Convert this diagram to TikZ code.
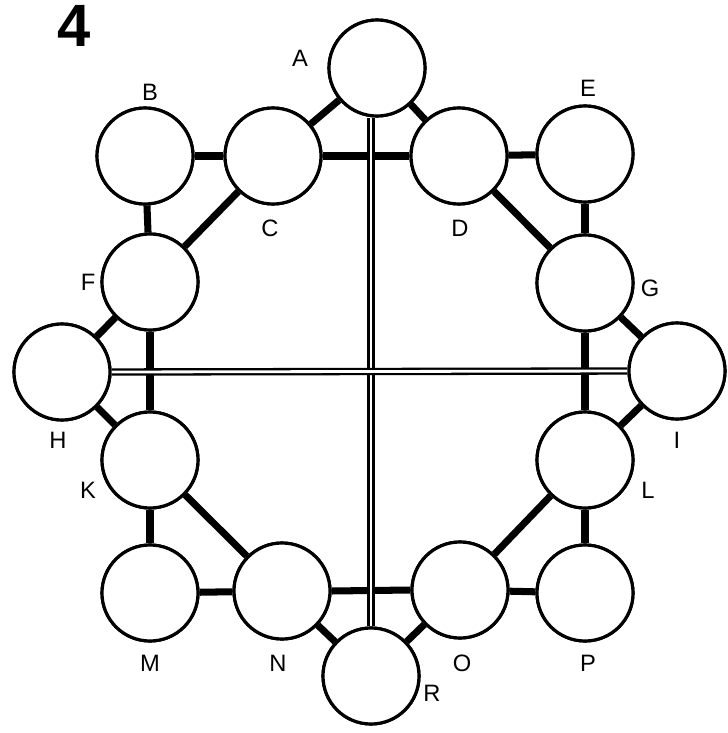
\documentclass[tikz,border=0pt]{standalone}
\usepackage{fontspec}
\setmainfont{Liberation Sans}
\usetikzlibrary{calc}

\begin{document}
\begin{tikzpicture}[x=0.02cm, y=-0.02cm]
    % Define colours
    \definecolor{borderColour}{HTML}{000000}
    \definecolor{fillColour}{HTML}{FFFFFF}

    % Define circle size and styles
    \def\circleSize{1.92cm}
    \tikzset{
        ring/.style={circle, draw=borderColour, fill=fillColour, line width=1.8pt,
            minimum size=\circleSize, inner sep=0pt},
        bar/.style={borderColour, line width=4pt},
        rail/.style={borderColour, double=fillColour, line width=1.3pt, double distance=1.6pt},
        tag/.style={font=\fontsize{13.5}{15}\selectfont, text=borderColour}
    }

    % Fix the page size
    \useasboundingbox (0,0) rectangle (727,733);

    % Figure number
    \node[font=\fontsize{34}{36}\selectfont\bfseries] (num) at (74,26) {4};

    % Place the circles
    \node[ring] (A) at (377,68) {};
    \node[ring] (B) at (145,156) {};
    \node[ring] (C) at (273,156) {};
    \node[ring] (D) at (459,156) {};
    \node[ring] (E) at (585,154) {};
    \node[ring] (F) at (150,282) {};
    \node[ring] (G) at (585,283) {};
    \node[ring] (H) at (62,372) {};
    \node[ring] (I) at (677,371) {};
    \node[ring] (K) at (150,460) {};
    \node[ring] (L) at (585,460) {};
    \node[ring] (M) at (150,593) {};
    \node[ring] (N) at (282,591) {};
    \node[ring] (O) at (460,590) {};
    \node[ring] (P) at (585,593) {};
    \node[ring] (R) at (371,676) {};

    % Draw the bars between the circles
    \foreach \a/\b in {A/C, A/D, B/C, C/F, B/F, D/E, D/G, E/G,
                       F/H, H/K, G/I, I/L, K/M, K/N, M/N, L/O, L/P, O/P, N/R, O/R}
        \draw[bar] (\a) -- (\b);
    \draw[bar] (C.east) -- (D.west);
    \draw[bar] (F.south) -- (K.north);
    \draw[bar] (G.south) -- (L.north);
    \draw[bar] (N.east) -- (O.west);

    % Redraw the circles over the bars
    \foreach \n in {A,B,C,D,E,F,G,H,I,K,L,M,N,O,P,R}
        \draw[borderColour, fill=fillColour, line width=1.8pt] (\n) circle (48);

    % Draw the rails
    \draw[rail] (R.north |- A.south) -- (R.north);
    \draw[rail] (H.east) -- (I.west);

    % Label the circles
    \node[tag] (tA) at (300,58) {A};
    \node[tag] (tB) at (150,92) {B};
    \node[tag] (tC) at (270,228) {C};
    \node[tag] (tD) at (460,228) {D};
    \node[tag] (tE) at (588,88) {E};
    \node[tag] (tF) at (88,282) {F};
    \node[tag] (tG) at (650,288) {G};
    \node[tag] (tH) at (58,440) {H};
    \node[tag] (tI) at (677,440) {I};
    \node[tag] (tK) at (88,490) {K};
    \node[tag] (tL) at (648,490) {L};
    \node[tag] (tM) at (150,663) {M};
    \node[tag] (tN) at (278,663) {N};
    \node[tag] (tO) at (462,663) {O};
    \node[tag] (tP) at (588,663) {P};
    \node[tag] (tR) at (432,693) {R};

\end{tikzpicture}
\end{document}
